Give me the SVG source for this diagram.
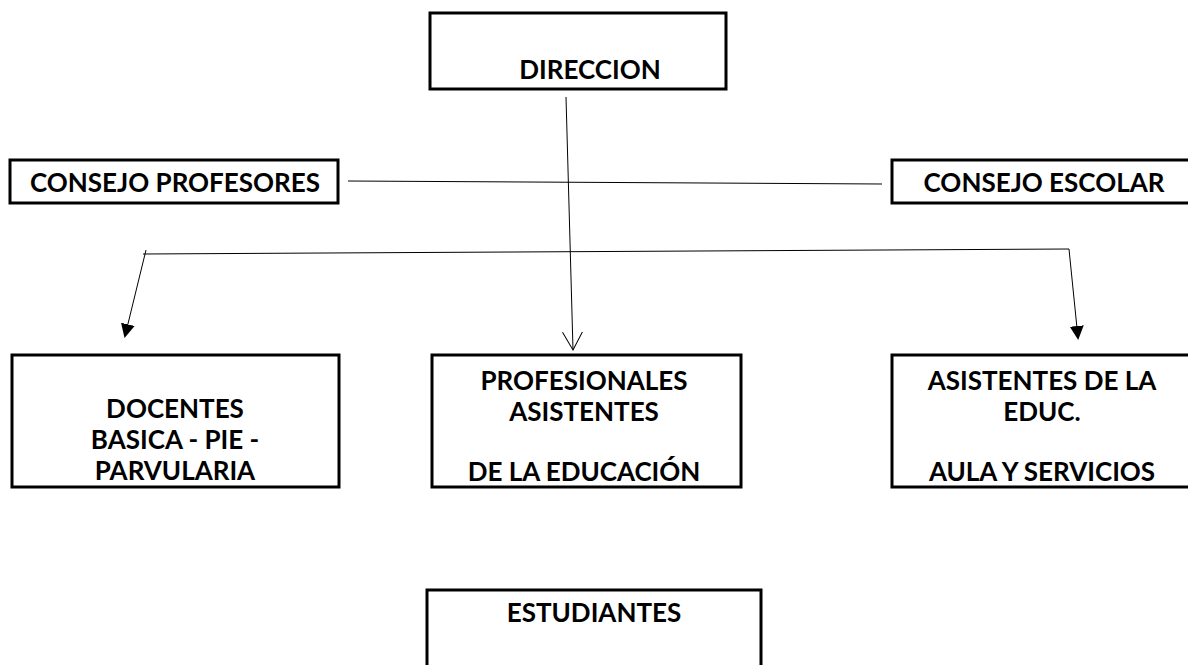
<svg xmlns="http://www.w3.org/2000/svg" width="1188" height="665" viewBox="0 0 1188 665">
<style>
.box{fill:#fff;stroke:#000;stroke-width:3}
.t{font-family:Lato,"Open Sans",sans-serif;font-weight:700;font-size:26px;fill:#000;text-anchor:middle}
.c{fill:none;stroke:#000;stroke-width:1}
</style>
<defs>
<marker id="fill" markerWidth="14" markerHeight="14" refX="12" refY="7" orient="auto" markerUnits="userSpaceOnUse">
<path d="M0,0 L14,7 L0,14 Z" fill="#000"/>
</marker>
<marker id="open" markerWidth="20" markerHeight="24" refX="18" refY="12" orient="auto" markerUnits="userSpaceOnUse">
<path d="M0,2 L18,12 L0,22" fill="none" stroke="#000" stroke-width="1"/>
</marker>
</defs>
<g id="connectors">
<line class="c" x1="348" y1="181" x2="882" y2="184"/>
<line class="c" x1="143" y1="254" x2="1069" y2="249"/>
<line class="c" x1="146" y1="250" x2="125" y2="336" marker-end="url(#fill)"/>
<line class="c" x1="1069" y1="249" x2="1078" y2="338" marker-end="url(#fill)"/>
<line class="c" x1="566" y1="97" x2="573" y2="350" marker-end="url(#open)"/>
</g>
<g id="direccion">
<rect class="box" x="430" y="13" width="296" height="76"/>
<text class="t" x="590" y="79">DIRECCION</text>
</g>
<g id="consejo-profesores">
<rect class="box" x="10" y="160" width="328" height="43"/>
<text class="t" x="175" y="192">CONSEJO PROFESORES</text>
</g>
<g id="consejo-escolar">
<rect class="box" x="892" y="160" width="310" height="43"/>
<text class="t" x="1044" y="192">CONSEJO ESCOLAR</text>
</g>
<g id="docentes">
<rect class="box" x="12" y="355" width="327" height="132"/>
<text class="t" x="175" y="418">DOCENTES</text>
<text class="t" x="175" y="449">BASICA - PIE -</text>
<text class="t" x="175" y="480">PARVULARIA</text>
</g>
<g id="profesionales">
<rect class="box" x="432" y="355" width="309" height="132"/>
<text class="t" x="584" y="390">PROFESIONALES</text>
<text class="t" x="584" y="421">ASISTENTES</text>
<text class="t" x="584" y="481">DE LA EDUCACIÓN</text>
</g>
<g id="asistentes">
<rect class="box" x="892" y="355" width="310" height="132"/>
<text class="t" x="1042" y="390">ASISTENTES DE LA</text>
<text class="t" x="1042" y="421">EDUC.</text>
<text class="t" x="1042" y="481">AULA Y SERVICIOS</text>
</g>
<g id="estudiantes">
<rect class="box" x="427" y="590" width="334" height="100"/>
<text class="t" x="594" y="622">ESTUDIANTES</text>
</g>
</svg>
